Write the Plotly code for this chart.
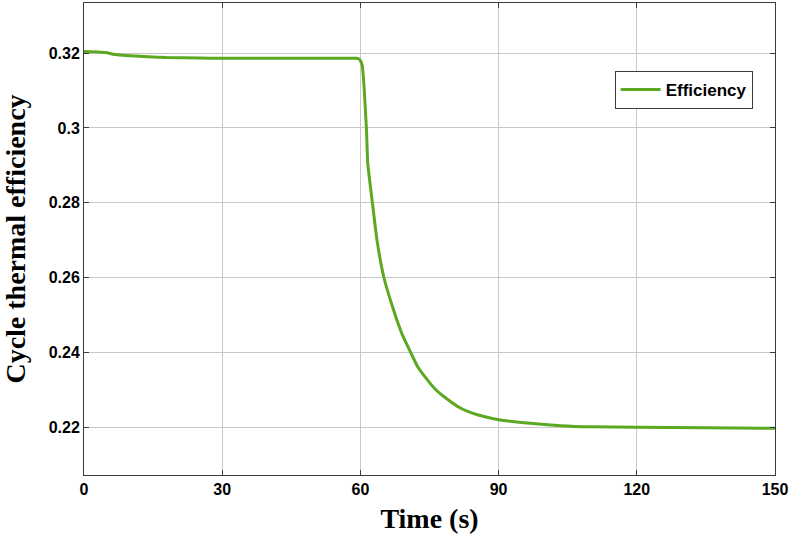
import plotly.graph_objects as go

# time (s) and efficiency
time_s = [0, 3, 5, 6.3, 8, 10, 14, 18, 25, 30, 40, 50, 59.0, 59.6, 60.0, 60.4,
          61.3, 61.6, 62.7, 63.6, 65.1, 67.2, 69.0, 70.9, 72.5, 74.5, 76.2,
          78.1, 81.7, 85.4, 90, 96.2, 103.5, 110, 120, 135, 150]
efficiency = [0.3204, 0.3203, 0.3201, 0.3197, 0.3195, 0.3193, 0.3190, 0.3188,
              0.3187, 0.3186, 0.3186, 0.3186, 0.3186, 0.3185, 0.3180, 0.3167,
              0.3000, 0.2905, 0.2790, 0.2700, 0.2600, 0.2513, 0.2450, 0.2400,
              0.2360, 0.2327, 0.2302, 0.2282, 0.2251, 0.2233, 0.2220, 0.2211,
              0.2204, 0.2201, 0.2200, 0.2198, 0.2197]

x_ticks = [0, 30, 60, 90, 120, 150]
y_ticks = [0.22, 0.24, 0.26, 0.28, 0.30, 0.32]
y_labels = ["0.22", "0.24", "0.26", "0.28", "0.3", "0.32"]

fig = go.Figure()
fig.add_trace(
    go.Scatter(
        x=time_s,
        y=efficiency,
        mode="lines",
        name="Efficiency",
        line=dict(color="rgb(92,168,32)", width=3, shape="spline", smoothing=0.5),
    )
)

axis_style = dict(
    showline=True,
    linecolor="rgb(60,60,60)",
    linewidth=1,
    mirror="allticks",
    ticks="inside",
    ticklen=5,
    tickcolor="rgb(60,60,60)",
    showgrid=True,
    gridcolor="rgb(200,200,200)",
    gridwidth=1,
    zeroline=False,
    tickfont=dict(family="Liberation Sans, Arial, sans-serif", size=16,
                  color="black", weight="bold"),
)
title_font = dict(family="Liberation Serif, Times New Roman, serif",
                  size=28, color="black", weight="bold")

fig.update_layout(
    width=789,
    height=536,
    paper_bgcolor="white",
    plot_bgcolor="white",
    margin=dict(l=84, r=14, t=3, b=61, autoexpand=False),
    showlegend=True,
    legend=dict(
        x=0.768, y=0.856, xanchor="left", yanchor="top",
        bgcolor="white", bordercolor="rgb(60,60,60)", borderwidth=1,
        font=dict(family="Liberation Sans, Arial, sans-serif", size=17,
                  color="black", weight="bold"),
        itemwidth=40,
    ),
    xaxis=dict(
        axis_style,
        range=[0, 150],
        tickvals=x_ticks,
        title=dict(text="Time (s)", standoff=11, font=title_font),
    ),
    yaxis=dict(
        axis_style,
        range=[0.2072, 0.3334],
        tickvals=y_ticks,
        ticktext=y_labels,
        title=dict(text="Cycle thermal efficiency", standoff=16, font=title_font),
    ),
)

fig.write_html(
    "out.html",
    config={"displayModeBar": False},
    post_script="document.body.style.margin='0px';",
)
